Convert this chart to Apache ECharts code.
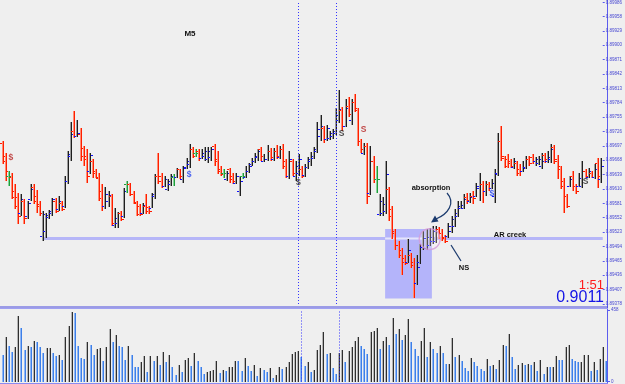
<!DOCTYPE html>
<html>
<head>
<meta charset="utf-8">
<script src="https://cdn.jsdelivr.net/npm/echarts/dist/echarts.min.js"></script>
<style>
html, body { margin: 0; padding: 0; background: #efefef; }
#main { width: 625px; height: 384px; }
</style>
</head>
<body>
<div id="main"></div>
<script>
// M5 bars
var opens = [0.89702,0.89676,0.89636,0.89634,0.89606,0.89594,0.89562,0.89586,0.89556,0.89590,
0.89614,0.89596,0.89580,0.89516,0.89526,0.89554,0.89562,0.89586,0.89570,0.89582,
0.89576,0.89626,0.89676,0.89726,0.89716,0.89720,0.89692,0.89676,0.89646,0.89666,
0.89646,0.89632,0.89606,0.89576,0.89586,0.89596,0.89538,0.89542,0.89562,0.89556,
0.89620,0.89620,0.89600,0.89584,0.89576,0.89562,0.89576,0.89574,0.89572,0.89596,
0.89636,0.89636,0.89616,0.89610,0.89620,0.89634,0.89634,0.89650,0.89630,0.89652,
0.89660,0.89690,0.89682,0.89686,0.89672,0.89676,0.89670,0.89674,0.89696,0.89670,
0.89650,0.89642,0.89630,0.89650,0.89636,0.89622,0.89606,0.89636,0.89634,0.89646,
0.89660,0.89666,0.89674,0.89690,0.89666,0.89670,0.89686,0.89670,0.89686,0.89674,
0.89690,0.89666,0.89636,0.89666,0.89636,0.89642,0.89650,0.89638,0.89654,0.89666,
0.89672,0.89686,0.89716,0.89732,0.89710,0.89712,0.89716,0.89722,0.89750,0.89770,
0.89736,0.89778,0.89750,0.89786,0.89770,0.89706,0.89682,0.89696,0.89602,0.89666,
0.89630,0.89560,0.89562,0.89566,0.89610,0.89570,0.89526,0.89496,0.89486,0.89470,
0.89462,0.89476,0.89462,0.89420,0.89462,0.89492,0.89490,0.89496,0.89506,0.89506,
0.89530,0.89522,0.89514,0.89516,0.89526,0.89536,0.89556,0.89572,0.89572,0.89594,
0.89586,0.89596,0.89596,0.89616,0.89620,0.89606,0.89620,0.89612,0.89596,0.89642,
0.89706,0.89672,0.89670,0.89666,0.89654,0.89662,0.89650,0.89646,0.89654,0.89670,
0.89674,0.89666,0.89662,0.89656,0.89678,0.89666,0.89670,0.89694,0.89670,0.89650,
0.89626,0.89596,0.89616,0.89636,0.89616,0.89616,0.89616,0.89646,0.89634,0.89642,
0.89634,0.89662,0.89630];

var highs = [0.89706,0.89682,0.89646,0.89642,0.89620,0.89602,0.89600,0.89590,0.89586,0.89620,
0.89620,0.89608,0.89586,0.89566,0.89562,0.89568,0.89592,0.89592,0.89596,0.89586,
0.89636,0.89686,0.89746,0.89768,0.89750,0.89732,0.89696,0.89690,0.89682,0.89670,
0.89650,0.89642,0.89620,0.89614,0.89606,0.89600,0.89572,0.89564,0.89566,0.89612,
0.89626,0.89622,0.89606,0.89586,0.89580,0.89582,0.89600,0.89576,0.89602,0.89640,
0.89682,0.89642,0.89636,0.89630,0.89640,0.89640,0.89652,0.89650,0.89656,0.89672,
0.89700,0.89694,0.89690,0.89690,0.89690,0.89694,0.89694,0.89694,0.89700,0.89686,
0.89656,0.89650,0.89646,0.89652,0.89642,0.89642,0.89636,0.89642,0.89656,0.89662,
0.89672,0.89682,0.89690,0.89694,0.89680,0.89698,0.89692,0.89692,0.89698,0.89696,
0.89700,0.89670,0.89686,0.89670,0.89666,0.89680,0.89656,0.89660,0.89674,0.89684,
0.89694,0.89746,0.89760,0.89736,0.89738,0.89726,0.89730,0.89774,0.89810,0.89776,
0.89792,0.89796,0.89792,0.89802,0.89774,0.89710,0.89702,0.89702,0.89696,0.89676,
0.89656,0.89600,0.89594,0.89666,0.89614,0.89576,0.89530,0.89506,0.89490,0.89476,
0.89510,0.89480,0.89470,0.89476,0.89500,0.89526,0.89530,0.89532,0.89536,0.89536,
0.89534,0.89530,0.89518,0.89542,0.89556,0.89570,0.89586,0.89586,0.89600,0.89602,
0.89602,0.89606,0.89622,0.89642,0.89626,0.89626,0.89624,0.89630,0.89650,0.89722,
0.89736,0.89676,0.89680,0.89670,0.89672,0.89666,0.89660,0.89666,0.89676,0.89676,
0.89680,0.89674,0.89676,0.89682,0.89682,0.89686,0.89700,0.89698,0.89678,0.89656,
0.89632,0.89600,0.89636,0.89646,0.89620,0.89642,0.89666,0.89650,0.89652,0.89646,
0.89660,0.89672,0.89672];

var lows = [0.89660,0.89626,0.89616,0.89590,0.89570,0.89540,0.89556,0.89540,0.89550,0.89586,
0.89580,0.89562,0.89556,0.89506,0.89512,0.89550,0.89556,0.89562,0.89566,0.89566,
0.89572,0.89620,0.89666,0.89712,0.89714,0.89666,0.89656,0.89622,0.89640,0.89632,
0.89632,0.89586,0.89566,0.89570,0.89574,0.89536,0.89532,0.89532,0.89546,0.89552,
0.89602,0.89596,0.89580,0.89556,0.89556,0.89560,0.89560,0.89560,0.89572,0.89590,
0.89620,0.89612,0.89614,0.89606,0.89616,0.89616,0.89632,0.89630,0.89622,0.89650,
0.89652,0.89672,0.89674,0.89666,0.89670,0.89666,0.89662,0.89666,0.89656,0.89640,
0.89636,0.89632,0.89626,0.89622,0.89620,0.89620,0.89596,0.89630,0.89632,0.89642,
0.89656,0.89662,0.89666,0.89666,0.89664,0.89666,0.89666,0.89666,0.89670,0.89670,
0.89650,0.89632,0.89630,0.89636,0.89626,0.89636,0.89632,0.89634,0.89650,0.89656,
0.89670,0.89682,0.89706,0.89702,0.89706,0.89708,0.89710,0.89718,0.89742,0.89726,
0.89734,0.89756,0.89738,0.89766,0.89696,0.89682,0.89678,0.89580,0.89598,0.89622,
0.89602,0.89556,0.89556,0.89560,0.89546,0.89510,0.89486,0.89470,0.89436,0.89456,
0.89460,0.89450,0.89390,0.89416,0.89458,0.89486,0.89486,0.89494,0.89500,0.89502,
0.89510,0.89506,0.89502,0.89512,0.89522,0.89534,0.89554,0.89570,0.89570,0.89580,
0.89582,0.89580,0.89594,0.89586,0.89582,0.89596,0.89606,0.89610,0.89582,0.89636,
0.89666,0.89652,0.89652,0.89652,0.89650,0.89636,0.89636,0.89644,0.89650,0.89656,
0.89660,0.89656,0.89658,0.89650,0.89662,0.89662,0.89662,0.89660,0.89630,0.89610,
0.89562,0.89572,0.89614,0.89606,0.89600,0.89614,0.89612,0.89632,0.89632,0.89632,
0.89630,0.89612,0.89622];

var closes = [0.89666,0.89646,0.89636,0.89594,0.89576,0.89556,0.89590,0.89552,0.89582,0.89610,
0.89586,0.89576,0.89562,0.89560,0.89558,0.89566,0.89590,0.89566,0.89586,0.89570,
0.89626,0.89680,0.89720,0.89716,0.89722,0.89676,0.89670,0.89636,0.89678,0.89642,
0.89634,0.89592,0.89576,0.89600,0.89598,0.89542,0.89552,0.89562,0.89550,0.89606,
0.89620,0.89600,0.89582,0.89560,0.89560,0.89578,0.89566,0.89566,0.89600,0.89636,
0.89626,0.89616,0.89630,0.89626,0.89636,0.89634,0.89650,0.89636,0.89654,0.89666,
0.89690,0.89676,0.89682,0.89672,0.89682,0.89686,0.89686,0.89690,0.89666,0.89646,
0.89640,0.89642,0.89642,0.89630,0.89626,0.89636,0.89626,0.89636,0.89646,0.89656,
0.89666,0.89676,0.89686,0.89676,0.89670,0.89686,0.89674,0.89686,0.89676,0.89690,
0.89656,0.89636,0.89670,0.89642,0.89656,0.89670,0.89636,0.89654,0.89670,0.89676,
0.89690,0.89730,0.89736,0.89710,0.89732,0.89722,0.89726,0.89760,0.89772,0.89736,
0.89774,0.89762,0.89786,0.89774,0.89706,0.89690,0.89696,0.89596,0.89666,0.89630,
0.89630,0.89586,0.89580,0.89640,0.89556,0.89522,0.89496,0.89476,0.89462,0.89460,
0.89486,0.89456,0.89420,0.89452,0.89492,0.89512,0.89514,0.89514,0.89526,0.89530,
0.89522,0.89512,0.89506,0.89536,0.89550,0.89562,0.89576,0.89578,0.89590,0.89588,
0.89594,0.89592,0.89612,0.89620,0.89606,0.89620,0.89612,0.89622,0.89640,0.89706,
0.89676,0.89656,0.89662,0.89656,0.89666,0.89642,0.89646,0.89652,0.89670,0.89662,
0.89666,0.89670,0.89670,0.89666,0.89670,0.89674,0.89690,0.89666,0.89656,0.89616,
0.89596,0.89576,0.89630,0.89616,0.89606,0.89632,0.89646,0.89636,0.89646,0.89634,
0.89650,0.89636,0.89656];

var volumes = [169,282,226,188,219,420,345,201,226,219,
257,251,219,182,213,215,182,163,169,138,
282,357,445,439,226,150,144,251,232,169,
207,213,132,219,339,251,295,226,219,138,
226,169,94,92,125,163,63,163,132,163,
107,188,125,169,94,44,107,63,138,150,
100,182,132,94,50,63,69,75,132,56,
75,69,94,96,132,130,69,150,100,69,
107,38,88,75,63,88,25,44,94,82,
94,125,176,188,194,157,100,125,63,75,
201,232,314,176,182,88,50,182,201,125,
194,219,257,288,226,207,176,314,326,345,
207,257,288,232,408,307,339,263,295,401,
251,207,163,257,345,157,251,207,182,226,
182,113,115,276,157,169,132,88,69,150,
125,100,82,69,144,100,107,82,138,232,
226,307,157,82,107,119,107,110,105,125,
69,138,50,94,91,95,163,138,136,219,
232,144,130,122,126,169,172,69,125,75,
144,219,132];

// session separators (bar index)
var sessionBars = [95, 107];

// VSA signals: bar position, price, text, kind
var sigPos = [2.7, 59.8, 94.9, 108.7, 115.8, 156.9, 187.0];
var sigPrice = [0.89674, 0.89638, 0.89622, 0.89721, 0.89729, 0.89601, 0.89625];
var sigText = ['$', '$', '$', 'S', 'S', '$', 'S'];
var sigKind = ['r', 'b', 'k', 'k', 'r', 'b', 'k'];

// AR creek level and the shaded zone
var arStart = 13, arPrice = 0.89510;
var zoneFrom = [122.7, 0.89529], zoneTo = [137.7, 0.89389];
var absorbAt = [137.0, 0.89509];

var sigColor = { r: '#b52020', b: '#1f3ff0', k: '#1e1e1e' };
var barUp = { light: '#9c9c9c', dark: '#1f1f1f', tick: '#1010ff' };
var barDown = { light: '#ff8c72', dark: '#ff1e00', tick: '#ff1a00' };
var barFlat = { light: '#86d296', dark: '#1e9e3c', tick: '#1e9e3c' };

var chart = echarts.init(document.getElementById('main'));

var barData = opens.map(function (o, i) {
    return [i, o, highs[i], lows[i], closes[i]];
});
var volData = volumes.map(function (v, i) { return [i, v]; });
var sigData = sigPos.map(function (x, k) {
    return { value: [x, sigPrice[k], sigText[k]], label: { color: sigColor[sigKind[k]] } };
});

function drawBar(params, api) {
    var i = api.value(0), o = api.value(1), h = api.value(2), l = api.value(3), c = api.value(4);
    var top = api.coord([i, h]), bot = api.coord([i, l]);
    var yo = Math.round(api.coord([i, o])[1]), yc = Math.round(api.coord([i, c])[1]);
    var x = Math.round(top[0]);
    var y0 = Math.round(top[1]);
    var hh = Math.max(1, Math.round(bot[1]) - y0);
    var pal = c > o ? barUp : (c < o ? barDown : barFlat);
    return {
        type: 'group',
        children: [
            { type: 'rect', shape: { x: x - 1, y: y0, width: 1, height: hh }, style: { fill: pal.light } },
            { type: 'rect', shape: { x: x, y: y0, width: 1, height: hh }, style: { fill: pal.dark } },
            { type: 'rect', shape: { x: x - 3, y: yo, width: 2, height: 1 }, style: { fill: pal.tick } },
            { type: 'rect', shape: { x: x + 1, y: yc, width: 2, height: 1 }, style: { fill: pal.tick } }
        ]
    };
}

function drawVol(params, api) {
    var i = api.value(0), v = api.value(1);
    var base = api.coord([i, 0]), tp = api.coord([i, v]);
    var x = Math.round(base[0]);
    var y0 = Math.round(tp[1]);
    var up = i > 0 && v > volumes[i - 1];
    var light = up ? '#b4b4b4' : '#8fb6f4';
    var dark = up ? '#2f2f2f' : '#3d7fe8';
    return {
        type: 'group',
        children: [
            { type: 'rect', shape: { x: x - 1, y: y0, width: 1, height: Math.round(base[1]) - y0 }, style: { fill: light } },
            { type: 'rect', shape: { x: x, y: y0, width: 1, height: Math.round(base[1]) - y0 }, style: { fill: dark } }
        ]
    };
}

var sessionLine = {
    silent: true,
    symbol: 'none',
    label: { show: false },
    lineStyle: { color: '#3434ff', type: [1, 2], width: 1, opacity: 1 },
    data: sessionBars.map(function (b) { return { xAxis: b }; })
};

var txt = { fontFamily: 'Liberation Sans, Arial, sans-serif', fontWeight: 'bold', fill: '#111', fontSize: 8 };

var axisLook = {
    splitLine: { show: false },
    axisLine: { show: false, onZero: false },
    axisTick: { show: true, length: 2, lineStyle: { color: '#5a5aee' } },
    axisLabel: {
        fontSize: 4.5, color: '#4646d2', margin: 3,
        fontFamily: 'Liberation Sans, Arial, sans-serif'
    }
};

var option = {
    backgroundColor: '#efefef',
    animation: false,
    grid: [
        { left: 1, right: 17, top: 0, height: 304 },
        { left: 1, right: 17, top: 310, height: 73 }
    ],
    xAxis: [
        { type: 'value', gridIndex: 0, min: -0.5, max: 192.5, show: false },
        { type: 'value', gridIndex: 1, min: -0.5, max: 192.5, show: false }
    ],
    yAxis: [
        Object.assign({
            type: 'value', gridIndex: 0, position: 'right',
            min: 0.89378, max: 0.89986, interval: 0.00029
        }, axisLook, {
            axisLabel: Object.assign({}, axisLook.axisLabel, {
                formatter: function (v) { return v.toFixed(5); }
            })
        }),
        Object.assign({
            type: 'value', gridIndex: 1, position: 'right',
            min: 0, max: 458, interval: 458
        }, axisLook)
    ],
    series: [
        {
            name: 'AR creek',
            type: 'line',
            xAxisIndex: 0, yAxisIndex: 0,
            z: 1,
            symbol: 'none',
            silent: true,
            lineStyle: { color: '#b6b6f8', width: 3 },
            data: [[arStart, arPrice], [192.5, arPrice]],
            markArea: {
                silent: true,
                itemStyle: { color: '#b4b4fa', opacity: 1 },
                data: [[{ coord: zoneFrom }, { coord: zoneTo }]]
            }
        },
        {
            type: 'line',
            xAxisIndex: 0, yAxisIndex: 0,
            z: 2,
            symbol: 'none',
            silent: true,
            lineStyle: { color: '#e4e4fb', width: 2 },
            data: [[zoneFrom[0], arPrice], [zoneTo[0], arPrice]]
        },
        {
            name: 'bars',
            type: 'custom',
            xAxisIndex: 0, yAxisIndex: 0,
            z: 3,
            renderItem: drawBar,
            encode: { x: 0, y: [1, 2, 3, 4] },
            data: barData,
            markLine: sessionLine
        },
        {
            name: 'absorption',
            type: 'scatter',
            xAxisIndex: 0, yAxisIndex: 0,
            z: 4,
            silent: true,
            symbol: 'circle',
            symbolSize: 21,
            itemStyle: { color: 'rgba(255,240,255,0.3)', borderColor: '#d49ada', borderWidth: 1.3 },
            data: [absorbAt]
        },
        {
            name: 'signals',
            type: 'scatter',
            xAxisIndex: 0, yAxisIndex: 0,
            z: 5,
            silent: true,
            symbolSize: 1,
            itemStyle: { color: 'rgba(0,0,0,0)' },
            label: {
                show: true, position: 'inside',
                fontSize: 8.5, fontWeight: 'bold',
                fontFamily: 'Liberation Sans, Arial, sans-serif',
                formatter: function (p) { return p.value[2]; }
            },
            data: sigData
        },
        {
            name: 'volume',
            type: 'custom',
            xAxisIndex: 1, yAxisIndex: 1,
            renderItem: drawVol,
            encode: { x: 0, y: 1 },
            data: volData,
            markLine: sessionLine
        }
    ],
    graphic: [
        { type: 'line', silent: true, shape: { x1: 607.5, y1: 0, x2: 607.5, y2: 384 }, style: { stroke: '#5c5cee', lineWidth: 1 } },
        { type: 'line', silent: true, shape: { x1: 0, y1: 307, x2: 608, y2: 307 }, style: { stroke: '#4848dc', lineWidth: 1 } },
        { type: 'line', silent: true, shape: { x1: 0, y1: 308.5, x2: 608, y2: 308.5 }, style: { stroke: '#a0a0f2', lineWidth: 1 } },
        { type: 'line', silent: true, shape: { x1: 0, y1: 383.5, x2: 608, y2: 383.5 }, style: { stroke: '#8a8af0', lineWidth: 1 } },
        { type: 'text', silent: true, x: 190, y: 34, style: Object.assign({}, txt, { text: 'M5', align: 'center', verticalAlign: 'middle' }) },
        { type: 'text', silent: true, x: 431, y: 188, style: Object.assign({}, txt, { text: 'absorption', fontSize: 7.5, align: 'center', verticalAlign: 'middle' }) },
        { type: 'text', silent: true, x: 510, y: 235, style: Object.assign({}, txt, { text: 'AR creek', fontSize: 7.5, align: 'center', verticalAlign: 'middle' }) },
        { type: 'text', silent: true, x: 464, y: 268, style: Object.assign({}, txt, { text: 'NS', fontSize: 7.5, align: 'center', verticalAlign: 'middle' }) },
        {
            type: 'bezierCurve', silent: true,
            shape: { x1: 447, y1: 193, cpx1: 456, cpy1: 203, cpx2: 448, cpy2: 214, x2: 436, y2: 219 },
            style: { stroke: '#1c3b6e', lineWidth: 1.2, fill: null }
        },
        { type: 'polygon', silent: true, shape: { points: [[431, 222.5], [435, 215.5], [438.5, 221.5]] }, style: { fill: '#1c3b6e' } },
        { type: 'line', silent: true, shape: { x1: 451, y1: 245, x2: 461, y2: 261 }, style: { stroke: '#1c3b6e', lineWidth: 1.2 } },
        {
            type: 'text', silent: true, x: 604, y: 285,
            style: { text: '1:51', fill: '#ff1c1c', fontSize: 13, fontFamily: 'Liberation Sans Narrow, Liberation Sans, Arial, sans-serif', align: 'right', verticalAlign: 'middle' }
        },
        {
            type: 'text', silent: true, x: 604, y: 298,
            style: { text: '0.9011', fill: '#1414e6', fontSize: 16, fontFamily: 'Liberation Sans Narrow, Liberation Sans, Arial, sans-serif', align: 'right', verticalAlign: 'middle' }
        }
    ]
};

chart.setOption(option);
</script>
</body>
</html>
